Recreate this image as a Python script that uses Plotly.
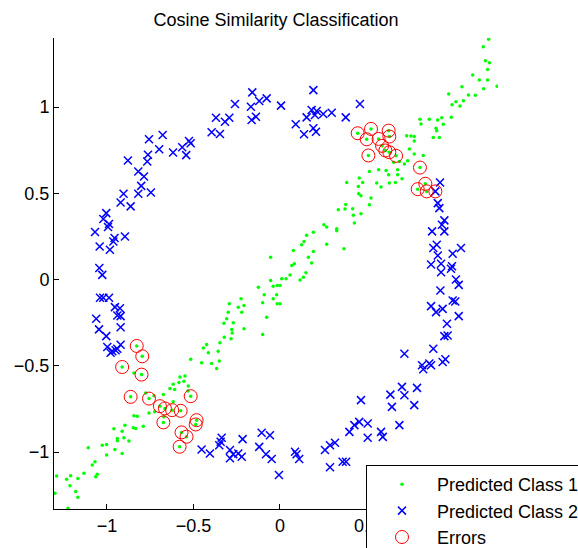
import plotly.graph_objects as go

# Points predicted as class 1 (green dots), excluding the misclassified ones
c1_x = [0.386, 0.380, 0.337, 0.376, 0.254, 0.270, 0.328, 0.328, 0.193, 0.154,
        0.139, 0.125, 0.270, 0.370, 0.077, 0.193, -0.054, 0.164, 0.183, 0.083,
        0.068,
        1.206, 1.175, 1.187, 1.210, 1.200, 1.114, 1.152, 1.200, 1.255, 1.177,
        1.052, 0.975, 1.089, 1.129, 1.060, 1.017, 0.994, 1.040, 0.990, 0.809,
        0.863, 0.911, 0.935, 0.815, 0.944, 0.902, 0.906, 0.886, 0.921, 0.732,
        0.757, 0.776, 0.776, 0.748, 0.776, 0.828, 0.738, 0.719, 0.690, 0.657,
        0.680, 0.705, 0.613, 0.628, 0.570, 0.517, 0.680, 0.667, 0.632, 0.559,
        0.584, 0.458, 0.478, 0.453, 0.455, 0.468, 0.526, 0.517, 0.420, 0.468,
        0.424, 0.430,
        0.150, 0.135, 0.116, 0.058, 0.035, 0.010, -0.054, -0.039, -0.016, 0.000,
        -0.125, -0.091, -0.039, -0.019, -0.100, -0.016, 0.000, -0.225, -0.241, -0.208,
        -0.293, -0.299, -0.221, -0.077, -0.308, -0.324, -0.270, -0.279, -0.276, -0.208,
        -0.100, -0.322, -0.283, -0.347, -0.424, -0.443, -0.414, -0.357, -0.351, -0.453,
        -0.395, -0.366,
        -0.516, -0.844, -0.578, -0.549, -0.555, -0.584, -0.617, -0.530, -0.636, -0.609,
        -0.532, -0.674, -0.776, -0.728, -0.617, -0.757, -0.724, -0.671, -0.844, -0.825,
        -0.896, -0.848, -0.834, -0.790, -0.960, -0.912, -0.940, -0.940, -0.902, -0.873,
        -1.002, -1.027, -0.954, -0.912, -1.002, -1.108, -1.069, -1.085, -1.056, -1.065,
        -1.133, -1.168, -1.210, -1.233, -1.291, -1.214, -1.181, -1.168, -1.301, -1.225]
c1_y = [0.563, 0.435, 0.405, 0.409, 0.318, 0.305, 0.295, 0.283, 0.274, 0.256,
        0.220, 0.202, 0.205, 0.179, 0.168, 0.162, 0.129, 0.129, 0.096, 0.091,
        0.081,
        1.393, 1.349, 1.268, 1.256, 1.218, 1.185, 1.156, 1.156, 1.121, 1.106,
        1.118, 1.075, 1.069, 1.068, 1.036, 1.031, 1.013, 1.006, 0.940, 0.929,
        0.929, 0.925, 0.938, 0.902, 0.900, 0.877, 0.863, 0.823, 0.823, 0.834,
        0.832, 0.829, 0.803, 0.757, 0.728, 0.719, 0.688, 0.669, 0.684, 0.680,
        0.636, 0.584, 0.632, 0.607, 0.636, 0.626, 0.607, 0.563, 0.559, 0.559,
        0.536, 0.588, 0.563, 0.539, 0.497, 0.486, 0.472, 0.434, 0.410, 0.382,
        0.372, 0.328,
        0.039, 0.013, -0.002, 0.027, 0.004, 0.004, -0.006, -0.039, -0.035, -0.035,
        -0.044, -0.088, -0.112, -0.088, -0.135, -0.141, -0.141, -0.112, -0.160, -0.150,
        -0.141, -0.189, -0.189, -0.218, -0.227, -0.253, -0.250, -0.289, -0.310, -0.285,
        -0.318, -0.334, -0.343, -0.366, -0.376, -0.397, -0.424, -0.416, -0.472, -0.482,
        -0.487, -0.516,
        -0.462, -0.541, -0.565, -0.559, -0.590, -0.597, -0.607, -0.617, -0.632, -0.638,
        -0.646, -0.667, -0.657, -0.674, -0.709, -0.773, -0.767, -0.796, -0.790, -0.792,
        -0.844, -0.859, -0.863, -0.850, -0.865, -0.879, -0.921, -0.935, -0.917, -0.936,
        -0.956, -0.960, -0.985, -1.008, -1.017, -0.975, -1.056, -1.075, -1.129, -1.143,
        -1.123, -1.153, -1.137, -1.158, -1.139, -1.195, -1.229, -1.262, -1.239, -1.325]

# Points predicted as class 2 (blue crosses), excluding the misclassified ones
c2_x = [-0.757, -0.678, -0.526, -0.516, -0.565, -0.618, -0.698, -0.542, -0.763, -0.767,
        -0.879, -0.819, -0.786, -0.802, -0.819, -0.746, -0.904, -0.921, -0.863, -1.004,
        -1.021, -0.988, -0.994, -1.069, -0.956, -0.963, -0.896, -1.042, -0.983, -1.044,
        -0.160, -0.260, -0.168, -0.120, -0.077, 0.006, -0.370, -0.293, -0.318, -0.164,
        -0.139, -0.395, -0.347, 0.193, 0.183, 0.212, 0.202, 0.154, 0.250, 0.299,
        0.380, 0.091, 0.139, 0.193, 0.208,
        0.462, 0.925, 0.912, 0.921, 0.950, 0.936, 0.879, 0.950, 0.906, 0.886,
        1.046, 0.998, 0.912, 0.873, 0.931, 0.994,
        0.931, 0.988, 1.017, 1.033, 0.927, 0.998, 1.013, 0.873, 0.902, 0.940,
        1.033, 0.965, 0.950, 0.969, 0.886, 0.719, 0.821, 0.863, 0.873, 0.828,
        0.940, 0.956, 0.705, 0.792, 0.638, 0.719, 0.647, 0.776, 0.468, 0.690,
        0.458, 0.507, 0.430, 0.401, 0.507, 0.584, 0.594, 0.382,
        -0.453, -0.405, -0.337, -0.351, -0.343, -0.289, -0.270, -0.289, -0.241, -0.221,
        -0.216, -0.106, -0.058, -0.120, -0.081, -0.048, -0.006, 0.087, 0.096, 0.111,
        0.260, 0.289, 0.318, 0.289, 0.362,
        -1.027, -1.040, -1.021, -0.988, -0.954, -0.925, -0.940, -0.921, -1.062, -0.921,
        -1.046, -1.004, -0.998, -0.969, -0.950, -0.921, -0.979, -0.940]
c2_y = [0.813, 0.838, 0.803, 0.790, 0.767, 0.736, 0.755, 0.721, 0.723, 0.684,
        0.690, 0.626, 0.597, 0.543, 0.497, 0.505, 0.497, 0.447, 0.424, 0.385,
        0.351, 0.322, 0.305, 0.276, 0.241, 0.220, 0.250, 0.192, 0.173, 0.067,
        1.085, 1.017, 1.002, 1.035, 1.050, 1.008, 0.938, 0.938, 0.915, 0.925,
        0.944, 0.854, 0.844, 1.098, 0.983, 0.977, 0.954, 0.940, 0.960, 0.967,
        0.940, 0.900, 0.842, 0.877, 0.857,
        1.017, 0.563, 0.443, 0.414, 0.343, 0.318, 0.279, 0.279, 0.202, 0.183,
        0.183, 0.150, 0.139, 0.087, 0.091, 0.077,
        0.042, 0.062, 0.000, -0.031, -0.064, -0.121, -0.127, -0.154, -0.189, -0.170,
        -0.212, -0.256, -0.328, -0.324, -0.401, -0.430, -0.497, -0.487, -0.497, -0.520,
        -0.478, -0.462, -0.622, -0.628, -0.667, -0.671, -0.738, -0.728, -0.699, -0.844,
        -0.825, -0.834, -0.844, -0.883, -0.917, -0.883, -0.912, -1.056,
        -0.985, -1.008, -0.917, -0.960, -0.940, -0.988, -1.013, -1.036, -1.008, -1.027,
        -0.925, -0.888, -0.902, -0.970, -1.013, -1.040, -1.133, -0.998, -1.013, -1.040,
        -0.988, -0.960, -0.946, -1.088, -1.056,
        0.027, -0.106, -0.106, -0.106, -0.160, -0.166, -0.208, -0.212, -0.227, -0.276,
        -0.289, -0.328, -0.391, -0.416, -0.410, -0.378, -0.424, -0.401]

# Misclassified points and the class each one was assigned to
err_x = [0.449, 0.501, 0.526, 0.570, 0.628, 0.632, 0.590, 0.609, 0.632, 0.671,
         0.511, 0.809, 0.796, 0.840, 0.848, 0.898,
         -0.828, -0.796, -0.912, -0.800, -0.863, -0.757, -0.694, -0.665, -0.623, -0.574,
         -0.516, -0.482, -0.487, -0.674, -0.569, -0.540, -0.580]
err_y = [0.848, 0.813, 0.873, 0.815, 0.863, 0.829, 0.775, 0.748, 0.738, 0.717,
         0.719, 0.649, 0.524, 0.555, 0.511, 0.511,
         -0.385, -0.445, -0.507, -0.551, -0.680, -0.690, -0.734, -0.747, -0.757, -0.761,
         -0.676, -0.815, -0.840, -0.828, -0.886, -0.911, -0.969]
err_pred = [1, 1, 1, 1, 1, 1, 1, 1, 1, 1,
            1, 1, 1, 1, 1, 2,
            1, 1, 1, 1, 1, 1, 1, 1, 1, 1,
            1, 1, 1, 1, 1, 1, 1]

tick_vals = [-1, -0.5, 0, 0.5, 1]
tick_text = ["\u22121", "\u22120.5", "0", "0.5", "1"]

# Predicted class 1/2 include their misclassified members
g_x = c1_x + [x for x, p in zip(err_x, err_pred) if p == 1]
g_y = c1_y + [y for y, p in zip(err_y, err_pred) if p == 1]
b_x = c2_x + [x for x, p in zip(err_x, err_pred) if p == 2]
b_y = c2_y + [y for y, p in zip(err_y, err_pred) if p == 2]

FONT = "Liberation Sans, Arial, sans-serif"

fig = go.Figure()
fig.add_trace(go.Scatter(
    x=g_x, y=g_y, mode="markers", name="Predicted Class 1",
    marker=dict(color="#00ff00", size=3.5, line=dict(width=0)),
))
fig.add_trace(go.Scatter(
    x=b_x, y=b_y, mode="markers", name="Predicted Class 2",
    marker=dict(symbol="x-thin-open", color="#0000ff", size=8,
                line=dict(color="#0000ff", width=1.5)),
))
fig.add_trace(go.Scatter(
    x=err_x, y=err_y, mode="markers", name="Errors",
    marker=dict(symbol="circle-open", color="#ff0000", size=13,
                line=dict(color="#ff0000", width=1)),
))

axis_common = dict(
    showgrid=False, zeroline=False, showline=True, linecolor="black", linewidth=1,
    ticks="inside", ticklen=5, tickcolor="black", tickwidth=1,
    tickvals=tick_vals, ticktext=tick_text,
    tickfont=dict(family=FONT, size=18, color="black"),
    mirror=False,
)

fig.update_layout(
    width=578, height=548,
    margin=dict(l=54, r=80, t=38, b=39, autoexpand=False),
    plot_bgcolor="white", paper_bgcolor="white",
    title=dict(text="Cosine Similarity Classification", x=0.5, xref="paper",
               xanchor="center", y=1 - 20 / 548, yref="container", yanchor="middle",
               font=dict(family=FONT, size=18, color="black")),
    xaxis=dict(range=[-1.306, 1.26], **axis_common),
    yaxis=dict(range=[-1.33, 1.40], **axis_common),
    showlegend=True,
    legend=dict(
        xref="container", yref="container", x=366 / 578, y=1 - 465 / 548,
        xanchor="left", yanchor="top",
        bgcolor="white", bordercolor="black", borderwidth=1,
        font=dict(family=FONT, size=18, color="black"),
        itemwidth=60, tracegroupgap=0,
    ),
)

fig.write_html("out.html", config={"displayModeBar": False})
